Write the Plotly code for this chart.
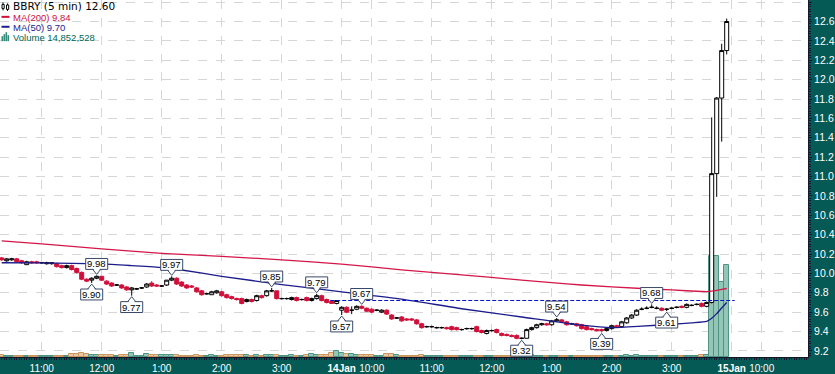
import pandas as pd
import plotly.graph_objects as go

# ---------------- data ----------------
SYMBOL = "BBRY"
INTERVAL = "5 min"

session1 = pd.date_range("2015-01-13 10:20", "2015-01-13 15:55", freq="5min")
session2 = pd.date_range("2015-01-14 09:30", "2015-01-14 15:55", freq="5min")
bar_times = list(session1) + list(session2)

open_ = [10.16, 10.13, 10.14, 10.15, 10.13, 10.09, 10.12, 10.12, 10.11, 10.10,
         10.10, 10.10, 10.08, 10.06, 10.08, 10.05, 10.01, 9.94, 9.93, 9.95,
         9.97, 9.92, 9.90, 9.88, 9.88, 9.86, 9.83, 9.84, 9.85, 9.86,
         9.90, 9.88, 9.87, 9.88, 9.93, 9.95, 9.91, 9.88, 9.87, 9.85,
         9.82, 9.79, 9.78, 9.80, 9.81, 9.78, 9.76, 9.74, 9.74, 9.71,
         9.73, 9.72, 9.77, 9.77, 9.82, 9.82, 9.74, 9.74, 9.73, 9.75,
         9.73, 9.75, 9.72, 9.74, 9.77, 9.73, 9.71, 9.69,
         9.62, 9.65, 9.62, 9.63, 9.66, 9.64, 9.63, 9.62, 9.60, 9.62,
         9.57, 9.54, 9.55, 9.53, 9.53, 9.52, 9.48, 9.45, 9.45, 9.44,
         9.44, 9.44, 9.45, 9.44, 9.42, 9.43, 9.43, 9.45, 9.41, 9.38,
         9.41, 9.42, 9.38, 9.37, 9.36, 9.36, 9.33, 9.33, 9.42, 9.44,
         9.47, 9.48, 9.47, 9.51, 9.52, 9.50, 9.48, 9.48, 9.47, 9.45,
         9.43, 9.42, 9.42, 9.41, 9.43, 9.46, 9.45, 9.49, 9.54, 9.57,
         9.63, 9.64, 9.65, 9.64, 9.64, 9.63, 9.64, 9.65, 9.66, 9.65,
         9.67, 9.68, 9.69, 9.66, 9.70, 11.03, 11.81, 12.30]
high = [10.17, 10.16, 10.16, 10.16, 10.14, 10.13, 10.13, 10.13, 10.12, 10.12,
        10.11, 10.11, 10.09, 10.09, 10.09, 10.06, 10.02, 9.95, 9.96, 9.98,
        9.97, 9.93, 9.91, 9.89, 9.89, 9.87, 9.86, 9.85, 9.86, 9.90,
        9.92, 9.89, 9.88, 9.93, 9.97, 9.96, 9.92, 9.89, 9.88, 9.86,
        9.83, 9.80, 9.82, 9.83, 9.82, 9.79, 9.77, 9.75, 9.75, 9.74,
        9.74, 9.78, 9.78, 9.83, 9.85, 9.82, 9.75, 9.75, 9.76, 9.76,
        9.74, 9.76, 9.75, 9.79, 9.78, 9.74, 9.72, 9.72,
        9.66, 9.66, 9.66, 9.67, 9.67, 9.65, 9.64, 9.63, 9.63, 9.63,
        9.58, 9.55, 9.56, 9.54, 9.54, 9.53, 9.49, 9.46, 9.46, 9.45,
        9.45, 9.45, 9.46, 9.45, 9.43, 9.44, 9.44, 9.46, 9.42, 9.42,
        9.42, 9.43, 9.39, 9.38, 9.37, 9.37, 9.34, 9.43, 9.45, 9.48,
        9.49, 9.49, 9.52, 9.54, 9.53, 9.51, 9.49, 9.49, 9.48, 9.46,
        9.44, 9.43, 9.43, 9.44, 9.47, 9.47, 9.51, 9.55, 9.58, 9.63,
        9.65, 9.66, 9.68, 9.66, 9.65, 9.64, 9.65, 9.66, 9.67, 9.69,
        9.68, 9.69, 9.70, 9.71, 11.61, 11.82, 12.37, 12.63]
low = [10.13, 10.12, 10.13, 10.11, 10.10, 10.09, 10.10, 10.10, 10.10, 10.09,
       10.09, 10.06, 10.05, 10.05, 10.03, 10.00, 9.93, 9.91, 9.90, 9.94,
       9.92, 9.88, 9.86, 9.87, 9.84, 9.82, 9.77, 9.83, 9.84, 9.85,
       9.86, 9.86, 9.86, 9.87, 9.92, 9.88, 9.86, 9.84, 9.85, 9.80,
       9.77, 9.78, 9.78, 9.79, 9.76, 9.74, 9.73, 9.72, 9.68, 9.70,
       9.70, 9.71, 9.74, 9.76, 9.81, 9.73, 9.73, 9.73, 9.72, 9.71,
       9.72, 9.71, 9.71, 9.73, 9.71, 9.69, 9.69, 9.68,
       9.57, 9.59, 9.58, 9.62, 9.63, 9.60, 9.59, 9.61, 9.59, 9.57,
       9.52, 9.53, 9.50, 9.51, 9.51, 9.47, 9.43, 9.44, 9.44, 9.43,
       9.43, 9.42, 9.41, 9.41, 9.41, 9.42, 9.42, 9.39, 9.38, 9.37,
       9.40, 9.38, 9.35, 9.35, 9.34, 9.32, 9.32, 9.33, 9.41, 9.43,
       9.46, 9.46, 9.46, 9.50, 9.49, 9.46, 9.47, 9.45, 9.42, 9.41,
       9.41, 9.40, 9.39, 9.40, 9.42, 9.44, 9.44, 9.48, 9.53, 9.56,
       9.62, 9.63, 9.64, 9.63, 9.61, 9.61, 9.63, 9.64, 9.64, 9.64,
       9.66, 9.67, 9.65, 9.65, 9.69, 10.79, 11.36, 12.26]
close = [10.14, 10.15, 10.15, 10.12, 10.11, 10.12, 10.11, 10.11, 10.11, 10.11,
         10.11, 10.07, 10.06, 10.08, 10.04, 10.01, 9.94, 9.92, 9.95, 9.97,
         9.93, 9.89, 9.87, 9.88, 9.85, 9.83, 9.85, 9.84, 9.85, 9.89,
         9.87, 9.87, 9.87, 9.93, 9.95, 9.89, 9.87, 9.85, 9.86, 9.81,
         9.78, 9.79, 9.81, 9.82, 9.77, 9.75, 9.74, 9.73, 9.69, 9.73,
         9.71, 9.77, 9.75, 9.82, 9.82, 9.74, 9.74, 9.74, 9.75, 9.72,
         9.73, 9.72, 9.74, 9.77, 9.72, 9.70, 9.69, 9.72,
         9.65, 9.60, 9.62, 9.66, 9.64, 9.61, 9.60, 9.62, 9.62, 9.58,
         9.53, 9.54, 9.51, 9.52, 9.52, 9.48, 9.44, 9.45, 9.45, 9.44,
         9.44, 9.43, 9.42, 9.42, 9.42, 9.43, 9.43, 9.40, 9.39, 9.41,
         9.41, 9.39, 9.36, 9.36, 9.35, 9.33, 9.33, 9.42, 9.44, 9.47,
         9.48, 9.47, 9.51, 9.52, 9.50, 9.47, 9.48, 9.46, 9.43, 9.42,
         9.42, 9.41, 9.41, 9.43, 9.46, 9.45, 9.50, 9.54, 9.57, 9.62,
         9.63, 9.64, 9.65, 9.64, 9.62, 9.63, 9.64, 9.65, 9.65, 9.68,
         9.67, 9.68, 9.66, 9.70, 11.03, 11.81, 12.30, 12.60]
volume = [260000, 180000, 150000, 170000, 140000, 160000, 150000, 130000, 170000, 140000,
          150000, 220000, 200000, 160000, 480000, 520000, 650000, 480000, 330000, 340000,
          300000, 320000, 290000, 200000, 250000, 280000, 640000, 220000, 200000, 480000,
          320000, 300000, 310000, 330000, 300000, 260000, 240000, 200000, 180000, 280000,
          230000, 200000, 260000, 220000, 240000, 260000, 270000, 250000, 280000, 260000,
          240000, 280000, 200000, 300000, 280000, 300000, 220000, 200000, 250000, 230000,
          220000, 260000, 450000, 400000, 350000, 380000, 640000, 950000,
          600000, 420000, 480000, 300000, 280000, 250000, 260000, 200000, 220000, 450000,
          480000, 260000, 240000, 200000, 180000, 220000, 300000, 200000, 160000, 150000,
          150000, 170000, 200000, 180000, 150000, 140000, 150000, 220000, 200000, 180000,
          150000, 170000, 200000, 190000, 180000, 230000, 250000, 350000, 250000, 220000,
          200000, 180000, 230000, 200000, 190000, 200000, 160000, 170000, 200000, 210000,
          170000, 160000, 200000, 180000, 200000, 160000, 220000, 260000, 240000, 350000,
          200000, 180000, 220000, 170000, 180000, 170000, 160000, 150000, 160000, 180000,
          150000, 160000, 300000, 280000, 16300000, 16300000, 12100000, 14852528]

# moving averages at selected bars
ma200_idx = [0, 8, 20, 32, 44, 56, 68, 80, 92, 104, 110, 116, 128, 134, 140, 141, 142, 143, 144, 145]
ma200_val = [10.335, 10.304, 10.253, 10.207, 10.176, 10.140, 10.095, 10.037, 9.984, 9.931,
             9.904, 9.880, 9.844, 9.829, 9.813, 9.812, 9.817, 9.825, 9.834, 9.844]
ma50_idx = [0, 8, 20, 26, 32, 36, 44, 56, 68, 80, 92, 104, 116, 122, 128, 134, 138, 141, 142, 143, 144, 145]
ma50_val = [10.110, 10.108, 10.098, 10.080, 10.060, 10.035, 9.970, 9.885, 9.810, 9.735, 9.635,
            9.550, 9.465, 9.440, 9.455, 9.475, 9.490, 9.505, 9.537, 9.585, 9.643, 9.700]

# swing-point callouts: (bar index, kind)
callout_idx = [18, 19, 26, 34, 54, 63, 68, 72, 104, 111, 120, 130, 133]
callout_kind = ["low", "high", "low", "high", "high", "high", "low", "high", "low", "high", "low", "high", "low"]

tick_times = ["2015-01-13 11:00", "2015-01-13 12:00", "2015-01-13 13:00", "2015-01-13 14:00",
              "2015-01-13 15:00", "2015-01-14 09:30", "2015-01-14 10:00", "2015-01-14 11:00",
              "2015-01-14 12:00", "2015-01-14 13:00", "2015-01-14 14:00", "2015-01-14 15:00",
              "2015-01-15 09:30", "2015-01-15 10:00"]
tick_text = ["11:00", "12:00", "1:00", "2:00", "3:00", "<b>14Jan</b>", "10:00", "11:00",
             "12:00", "1:00", "2:00", "3:00", "<b>15Jan</b>", "10:00"]
view_start = "2015-01-13 10:18:18"
view_end = "2015-01-15 10:46:18"
Y_RANGE = [9.137, 12.822]

# ---------------- scale helpers (trading-time axis, sessions 9:30-16:00) ----------------
DAY0 = pd.Timestamp("2015-01-13")


def tpos(t):
    t = pd.Timestamp(t)
    day = (t.normalize() - DAY0).days
    return day * 390 + (t.hour * 60 + t.minute + t.second / 60.0 - 570)


xs = [tpos(t) for t in bar_times]
n = len(xs)

TEAL = "#065a55"
RED = "#d0103a"
NAVY = "#1c1c8c"
GRID = "#d6d6d6"
AXIS = "#14182e"
BOX = "#3a4868"

PLOT_W, PLOT_H = 808, 360
PY = (Y_RANGE[1] - Y_RANGE[0]) / PLOT_H  # price per pixel

fig = go.Figure()

# volume (primary hidden axis, drawn beneath)
vol_up = [close[i] >= open_[i] for i in range(n)]
fig.add_trace(go.Bar(
    x=xs, y=volume, width=5, yaxis="y",
    marker=dict(color=["#93c6b6" if u else "#e9c9a3" for u in vol_up],
                line=dict(color=["#4f9483" if u else "#c99660" for u in vol_up], width=1)),
    showlegend=False, hoverinfo="skip"))

# candles
up_i = [i for i in range(n) if close[i] >= open_[i]]
dn_i = [i for i in range(n) if close[i] < open_[i]]
for idxs, line_c, fill_c in [(up_i, "#000000", "#ffffff"), (dn_i, RED, RED)]:
    fig.add_trace(go.Candlestick(
        x=[xs[i] for i in idxs], open=[open_[i] for i in idxs], high=[high[i] for i in idxs],
        low=[low[i] for i in idxs], close=[close[i] for i in idxs], yaxis="y2",
        increasing=dict(line=dict(color=line_c, width=1), fillcolor=fill_c),
        decreasing=dict(line=dict(color=line_c, width=1), fillcolor=fill_c),
        whiskerwidth=0, showlegend=False, hoverinfo="skip"))

# moving averages
fig.add_trace(go.Scatter(x=[xs[i] for i in ma200_idx], y=ma200_val, yaxis="y2", mode="lines",
                         line=dict(color="#d4174a", width=1.3, shape="spline", smoothing=0.5),
                         showlegend=False, hoverinfo="skip"))
fig.add_trace(go.Scatter(x=[xs[i] for i in ma50_idx], y=ma50_val, yaxis="y2", mode="lines",
                         line=dict(color=NAVY, width=1.3, shape="spline", smoothing=0.5),
                         showlegend=False, hoverinfo="skip"))

shapes = []
annotations = []

# previous close dashed line
prev_close = close[len(session1) - 1]
shapes.append(dict(type="line", xref="x", yref="y2", x0=xs[len(session1) - 2] - 1.5,
                   x1=tpos("2015-01-14 16:00") + 3, y0=prev_close, y1=prev_close,
                   line=dict(color="#0a14c8", width=1.2, dash="4px,2px"), layer="above"))

# callouts
for i, kind in zip(callout_idx, callout_kind):
    xc = xs[i]
    if kind == "high":
        val = high[i]
        tip = val + 1 * PY
        edge = tip + 5 * PY
        y0b, y1b = edge, edge + 11 * PY
        inner = edge + 1.2 * PY
    else:
        val = low[i]
        tip = val - 1 * PY
        edge = tip - 5 * PY
        y0b, y1b = edge - 11 * PY, edge
        inner = edge - 1.2 * PY
    shapes.append(dict(type="rect", xref="x", yref="y2", x0=xc - 11, x1=xc + 11, y0=y0b, y1=y1b,
                       fillcolor="white", line=dict(color=BOX, width=1), layer="above"))
    shapes.append(dict(type="path", xref="x", yref="y2",
                       path=f"M {xc-3.6} {inner} L {xc+3.6} {inner} L {xc} {tip} Z",
                       fillcolor="white", line=dict(width=0), layer="above"))
    shapes.append(dict(type="path", xref="x", yref="y2",
                       path=f"M {xc-4} {edge} L {xc} {tip} L {xc+4} {edge}",
                       fillcolor="rgba(0,0,0,0)", line=dict(color=BOX, width=1), layer="above"))
    annotations.append(dict(x=xc, y=(y0b + y1b) / 2, xref="x", yref="y2", text=f"{val:.2f}",
                            showarrow=False, xanchor="center", yanchor="middle",
                            font=dict(family="Liberation Sans, Arial", size=9.5, color="#000000")))


def PX(px):
    return px / PLOT_W


def PYP(py):
    return 1 - py / PLOT_H


# legend (top-left)
leg_rows = [
    (f"{SYMBOL} ({INTERVAL}) {close[-1]:.2f}", "#000000", "DejaVu Sans", 10.5, 5.8),
    (f"MA(200) {ma200_val[-1]:.2f}", RED, "Liberation Sans, Arial", 9.5, 17.3),
    (f"MA(50) {ma50_val[-1]:.2f}", NAVY, "Liberation Sans, Arial", 9.5, 27.3),
    (f"Volume {volume[-1]:,}", "#006656", "Liberation Sans, Arial", 9.5, 37.4),
]
for txt, col, fam, sz, yy in leg_rows:
    annotations.append(dict(x=PX(11.5), y=PYP(yy), xref="paper", yref="paper", text=txt,
                            showarrow=False, xanchor="left", yanchor="middle", borderpad=0,
                            font=dict(family=fam, size=sz, color=col)))
# legend icons
for (xa, ya0, ya1, yb0, yb1) in [(2.0, 2.5, 10.5, 4.5, 8.5), (6.5, 3.5, 11.0, 5.0, 9.5)]:
    shapes.append(dict(type="line", xref="paper", yref="paper", x0=PX(xa + 1), x1=PX(xa + 1),
                       y0=PYP(ya0), y1=PYP(ya1), line=dict(color="#000", width=1)))
    shapes.append(dict(type="rect", xref="paper", yref="paper", x0=PX(xa), x1=PX(xa + 2.2),
                       y0=PYP(yb0), y1=PYP(yb1), fillcolor="white", line=dict(color="#000", width=1)))
shapes.append(dict(type="line", xref="paper", yref="paper", x0=PX(1.5), x1=PX(9.5), y0=PYP(17),
                   y1=PYP(17), line=dict(color=RED, width=2)))
shapes.append(dict(type="line", xref="paper", yref="paper", x0=PX(1.5), x1=PX(9.5), y0=PYP(27),
                   y1=PYP(27), line=dict(color=NAVY, width=2)))
for bx, bh in [(1.5, 5), (3.5, 7), (5.5, 9), (7.5, 6)]:
    shapes.append(dict(type="rect", xref="paper", yref="paper", x0=PX(bx), x1=PX(bx + 1.6),
                       y0=PYP(41.5), y1=PYP(41.5 - bh), fillcolor="#2f8a78", line=dict(width=0)))

fig.update_layout(
    width=835, height=374,
    margin=dict(l=0, r=27, t=0, b=14, pad=0),
    paper_bgcolor=TEAL, plot_bgcolor="white",
    showlegend=False, boxgap=0.2, boxgroupgap=0, bargap=0,
    xaxis=dict(range=[tpos(view_start), tpos(view_end)], tickmode="array",
               tickvals=[tpos(t) for t in tick_times], ticktext=tick_text,
               tickfont=dict(family="Liberation Sans, Arial", size=10, color="white"),
               showgrid=True, gridcolor=GRID, griddash="dash", gridwidth=1,
               ticks="outside", ticklen=2, tickcolor=AXIS,
               showline=True, linecolor=AXIS, linewidth=1, zeroline=False,
               rangeslider=dict(visible=False), fixedrange=True,
               minor=dict(tickmode="linear", tick0=0, dtick=2.5, ticks="outside", ticklen=2,
                          tickcolor=AXIS, showgrid=False)),
    yaxis=dict(range=[0, 57.5e6], visible=False, fixedrange=True),
    yaxis2=dict(overlaying="y", side="right", range=Y_RANGE, tick0=9.2, dtick=0.2,
                tickformat=".1f", showgrid=True, gridcolor=GRID, griddash="dash", gridwidth=1,
                tickfont=dict(family="Liberation Sans, Arial", size=10.5, color="white"),
                ticks="outside", ticklen=3, tickcolor=AXIS, showline=True, linecolor=AXIS,
                linewidth=1, zeroline=False, fixedrange=True,
                minor=dict(tickmode="linear", tick0=9.2, dtick=0.025, ticks="outside", ticklen=2,
                           tickcolor=AXIS, showgrid=False)),
    shapes=shapes, annotations=annotations,
)

fig.write_html("out.html")
